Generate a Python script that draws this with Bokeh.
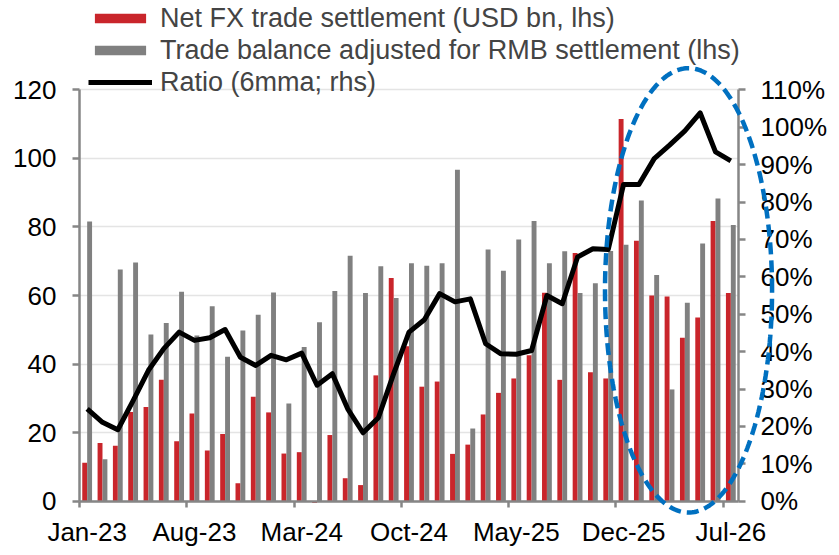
import numpy as np
from bokeh.plotting import figure
from bokeh.models import (ColumnDataSource, Range1d, LinearAxis, FixedTicker,
                          NumeralTickFormatter, Legend, LegendItem, PolyAnnotation)
from bokeh.transform import dodge
from bokeh.embed import file_html
from bokeh.resources import INLINE

months = ["Jan-23", "Feb-23", "Mar-23", "Apr-23", "May-23", "Jun-23", "Jul-23",
          "Aug-23", "Sep-23", "Oct-23", "Nov-23", "Dec-23", "Jan-24", "Feb-24",
          "Mar-24", "Apr-24", "May-24", "Jun-24", "Jul-24", "Aug-24", "Sep-24",
          "Oct-24", "Nov-24", "Dec-24", "Jan-25", "Feb-25", "Mar-25", "Apr-25",
          "May-25", "Jun-25", "Jul-25", "Aug-25", "Sep-25", "Oct-25", "Nov-25",
          "Dec-25", "Jan-26", "Feb-26", "Mar-26", "Apr-26", "May-26", "Jun-26",
          "Jul-26"]

net_fx = [11.2, 17.0, 16.2, 26.0, 27.5, 35.4, 17.5, 25.6, 14.8, 19.6, 5.2, 30.5,
          25.9, 13.9, 14.3, -0.5, 19.3, 6.7, 4.7, 36.7, 65.1, 45.2, 33.4, 34.9,
          13.8, 16.5, 25.3, 31.6, 35.8, 42.6, 60.8, 35.4, 72.4, 37.6, 35.8, 111.5,
          76.0, 60.0, 59.7, 47.7, 53.6, 81.7, 60.7]

trade_bal = [81.6, 12.2, 67.6, 69.6, 48.6, 52.0, 61.1, 48.3, 56.9, 42.1, 49.8, 54.4,
             60.9, 28.5, 45.0, 52.2, 61.3, 71.6, 60.7, 68.5, 59.3, 69.4, 68.7, 69.4,
             96.7, 21.2, 73.4, 67.2, 76.3, 81.7, 69.4, 72.9, 60.7, 63.6, 73.0, 74.8,
             87.7, 66.0, 32.6, 57.9, 75.2, 88.3, 80.6]

ratio = [0.247, 0.211, 0.191, 0.269, 0.350, 0.408, 0.452, 0.430, 0.437, 0.459,
         0.385, 0.363, 0.390, 0.378, 0.396, 0.310, 0.341, 0.247, 0.183, 0.223,
         0.341, 0.452, 0.485, 0.555, 0.533, 0.541, 0.421, 0.394, 0.393, 0.403,
         0.550, 0.528, 0.653, 0.675, 0.673, 0.847, 0.847, 0.916, 0.952, 0.990,
         1.038, 0.934, 0.910]

label_every = 7
lhs_max = 120
rhs_max = 1.1
lhs_ticks = [0, 20, 40, 60, 80, 100, 120]
rhs_ticks = [round(0.1 * i, 1) for i in range(12)]

RED = "#C9252B"
GREY = "#808080"
AXIS = "#868686"
FONT = "Liberation Sans"

# canvas / plot-area geometry (pixels)
W, H = 835, 550
PL, PR, PT, PB = 79.0, 738.0, 89.3, 500.7

n = len(months)
idx = list(range(n))
u = (PR - PL) / n                  # px per month
v = (PB - PT) / lhs_max            # px per lhs unit
x0 = -0.5 - PL / u
x1 = -0.5 + (W - PL) / u
y0 = -(H - PB) / v
y1 = lhs_max + PT / v
k = rhs_max / lhs_max

bars = ColumnDataSource(dict(x=idx, net=net_fx, bal=trade_bal))
line_src = ColumnDataSource(dict(x=idx, ratio=ratio))

p = figure(width=W, height=H, x_range=Range1d(x0, x1), y_range=Range1d(y0, y1),
           output_backend="svg", toolbar_location=None,
           min_border_left=0, min_border_right=0, min_border_top=0,
           min_border_bottom=0)
p.outline_line_color = None
p.background_fill_color = "white"
p.border_fill_color = "white"
p.xgrid.visible = False
p.extra_y_ranges = {"rhs": Range1d(y0 * k, y1 * k)}

r_red = p.vbar(x=dodge("x", -0.16), top="net", width=0.32, source=bars,
               fill_color=RED, line_color=None)
r_grey = p.vbar(x=dodge("x", 0.16), top="bal", width=0.32, source=bars,
                fill_color=GREY, line_color=None)
r_line = p.line(x="x", y="ratio", source=line_src, y_range_name="rhs",
                line_color="black", line_width=5, line_join="round")

# x axis: labels at month centres, ticks at month boundaries
lab_pos = idx[::label_every]
xa = p.xaxis[0]
xa.fixed_location = 0
xa.bounds = (-0.5, n - 0.5)
xa.ticker = FixedTicker(ticks=lab_pos, minor_ticks=[i - 0.5 for i in lab_pos])
xa.major_label_overrides = {i: months[i] for i in lab_pos}
xa.major_tick_line_color = None
xa.major_tick_out = 0
xa.major_tick_in = 0
xa.minor_tick_out = 6
xa.minor_tick_in = 0
xa.minor_tick_line_color = AXIS
xa.minor_tick_line_width = 2.5
xa.major_label_standoff = 10

ya = p.yaxis[0]
ya.fixed_location = -0.5
ya.bounds = (0, lhs_max)
ya.ticker = FixedTicker(ticks=lhs_ticks)
ya.major_label_standoff = 16

ra = LinearAxis(y_range_name="rhs", ticker=FixedTicker(ticks=rhs_ticks),
                formatter=NumeralTickFormatter(format="0%"))
ra.fixed_location = n - 0.5
ra.bounds = (0, rhs_max)
ra.major_label_standoff = 15
p.add_layout(ra, "right")

for ax in (xa, ya, ra):
    ax.axis_line_color = AXIS
    ax.axis_line_width = 2.5
    ax.major_label_text_font = FONT
    ax.major_label_text_font_size = "26px"
    ax.major_label_text_color = "black"
for ax in (ya, ra):
    ax.major_tick_line_color = AXIS
    ax.major_tick_line_width = 2.5
    ax.major_tick_out = 7
    ax.major_tick_in = 0
    ax.minor_tick_line_color = None

g = p.ygrid[0]
g.ticker = ya.ticker
g.bounds = (0, lhs_max)
g.grid_line_color = "#e4e4e4"
g.grid_line_width = 1.5
if "cross_bounds" in g.properties():
    g.cross_bounds = (-0.5, n - 0.5)
else:
    g.visible = False
    p.segment(x0=[-0.5] * len(lhs_ticks), x1=[n - 0.5] * len(lhs_ticks),
              y0=lhs_ticks, y1=lhs_ticks, line_color="#e4e4e4", line_width=1.5,
              level="underlay")

# highlight ellipse
cx, cy, hw, hh = 39.24, 61.5, 5.45, 64.8
t = np.linspace(0, 2 * np.pi, 240)
ell = PolyAnnotation(xs=list(cx + hw * np.cos(t)), ys=list(cy + hh * np.sin(t)),
                     fill_alpha=0, line_color="#0070C0", line_alpha=1.0,
                     line_width=4.5, line_dash="12 6")
p.add_layout(ell)

legend = Legend(items=[
    LegendItem(label="Net FX trade settlement (USD bn, lhs)", renderers=[r_red]),
    LegendItem(label="Trade balance adjusted for RMB settlement (lhs)", renderers=[r_grey]),
    LegendItem(label="Ratio (6mma; rhs)", renderers=[r_line]),
], location=(88, H - 98), orientation="vertical", padding=0, margin=0, spacing=0,
    border_line_color=None, background_fill_alpha=0, glyph_width=64,
    glyph_height=12, label_height=32, label_standoff=8,
    label_text_font=FONT, label_text_font_size="27px")
p.add_layout(legend)

open("out.html", "w").write(file_html(p, INLINE))
